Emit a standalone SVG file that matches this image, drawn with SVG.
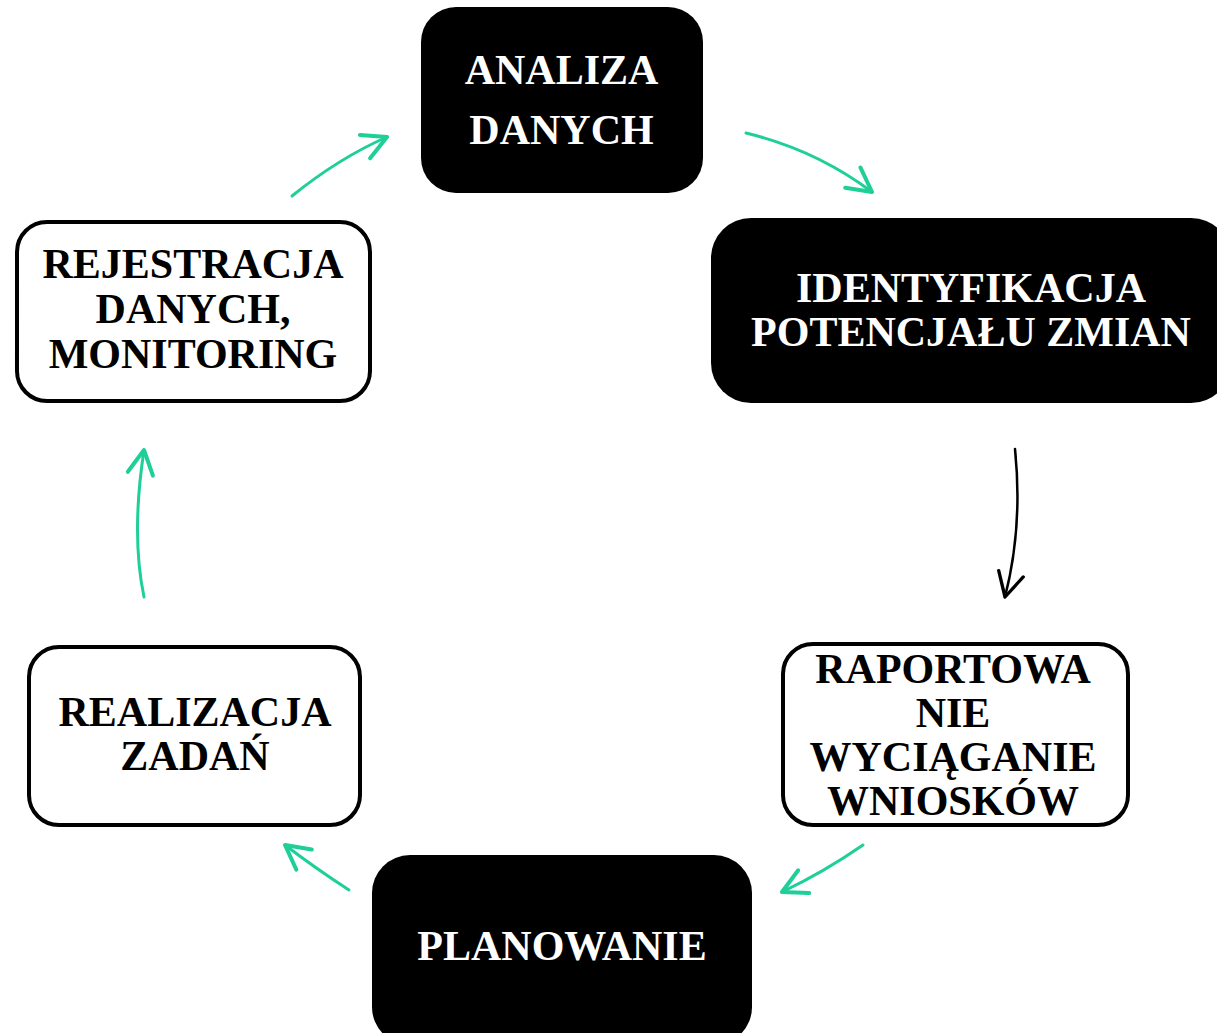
<svg xmlns="http://www.w3.org/2000/svg" width="1217" height="1033" viewBox="0 0 1217 1033">
<defs>
<style>
.t{font-family:"Liberation Serif","Times New Roman",serif;font-weight:bold;font-size:42px;text-anchor:middle}
.w{fill:#ffffff}
.k{fill:#000000}
.dark{fill:#000000}
.light{fill:#ffffff;stroke:#000000;stroke-width:4}
.g{fill:none;stroke:#1ecf98;stroke-width:3;stroke-linecap:round}
.b{fill:none;stroke:#000000;stroke-width:2.5;stroke-linecap:round}
</style>
<marker id="ag" markerUnits="userSpaceOnUse" markerWidth="40" markerHeight="40" refX="0" refY="0" orient="auto" viewBox="-25 -15 30 30" overflow="visible">
<path d="M -18 -9.5 L 0 0 L -18 9.5" fill="none" stroke="#1ecf98" stroke-width="3" stroke-linecap="round" stroke-linejoin="round"/>
</marker>
<marker id="ab" markerUnits="userSpaceOnUse" markerWidth="40" markerHeight="40" refX="0" refY="0" orient="auto" viewBox="-25 -15 30 30" overflow="visible">
<path d="M -18 -9.5 L 0 0 L -18 9.5" fill="none" stroke="#000000" stroke-width="2.5" stroke-linecap="round" stroke-linejoin="round"/>
</marker>
</defs>
<rect width="1217" height="1033" fill="#ffffff"/>
<g id="connectors">
<path class="g" d="M 292 196 Q 339 158 387 137" marker-end="url(#ag)"/>
<path class="g" d="M 746 133 Q 816 150 872 192" marker-end="url(#ag)"/>
<path class="b" d="M 1015 449 Q 1023 527 1005 597" marker-end="url(#ab)"/>
<path class="g" d="M 863 845 Q 824 872 782 892" marker-end="url(#ag)"/>
<path class="g" d="M 349 890 Q 315 868 285 845" marker-end="url(#ag)"/>
<path class="g" d="M 144 597 Q 131 535 144 450" marker-end="url(#ag)"/>
</g>
<g id="node-analiza">
<rect class="dark" x="421" y="7" width="282" height="186" rx="35"/>
<text class="t w" x="561.5" y="84">ANALIZA</text>
<text class="t w" x="561.5" y="144">DANYCH</text>
</g>
<g id="node-identyfikacja">
<rect class="dark" x="711" y="218" width="520" height="185" rx="40"/>
<text class="t w" x="971" y="302">IDENTYFIKACJA</text>
<text class="t w" x="971" y="346">POTENCJAŁU ZMIAN</text>
</g>
<g id="node-raportowanie">
<rect class="light" x="783" y="644" width="345" height="181" rx="30"/>
<text class="t k" x="953" y="683">RAPORTOWA</text>
<text class="t k" x="953" y="727">NIE</text>
<text class="t k" x="953" y="771">WYCIĄGANIE</text>
<text class="t k" x="953" y="815">WNIOSKÓW</text>
</g>
<g id="node-planowanie">
<rect class="dark" x="372" y="855" width="380" height="190" rx="38"/>
<text class="t w" x="562" y="960">PLANOWANIE</text>
</g>
<g id="node-realizacja">
<rect class="light" x="29" y="647" width="331" height="178" rx="30"/>
<text class="t k" x="195" y="726">REALIZACJA</text>
<text class="t k" x="195" y="770">ZADAŃ</text>
</g>
<g id="node-rejestracja">
<rect class="light" x="17" y="222" width="353" height="179" rx="30"/>
<text class="t k" x="193" y="278">REJESTRACJA</text>
<text class="t k" x="193" y="323">DANYCH,</text>
<text class="t k" x="193" y="368">MONITORING</text>
</g>
</svg>
